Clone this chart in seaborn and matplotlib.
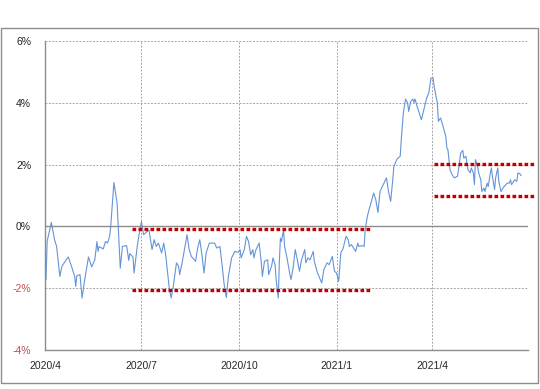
import pandas as pd
import matplotlib
matplotlib.use("Agg")
import matplotlib.pyplot as plt
from matplotlib.patches import Rectangle
import seaborn as sns

# daily series (percent)
dates = [
    "2020-04-02", "2020-04-03", "2020-04-07", "2020-04-10", "2020-04-12", "2020-04-15", "2020-04-17",
    "2020-04-21", "2020-04-23", "2020-04-26", "2020-04-29", "2020-04-30", "2020-05-01", "2020-05-04",
    "2020-05-06", "2020-05-08", "2020-05-12", "2020-05-15", "2020-05-18", "2020-05-20", "2020-05-21",
    "2020-05-22", "2020-05-26", "2020-05-28", "2020-05-30", "2020-06-01", "2020-06-02", "2020-06-05",
    "2020-06-08", "2020-06-11", "2020-06-13", "2020-06-17", "2020-06-19", "2020-06-20", "2020-06-23",
    "2020-06-24", "2020-06-27", "2020-06-29", "2020-07-01", "2020-07-03", "2020-07-08", "2020-07-11",
    "2020-07-13", "2020-07-15", "2020-07-17", "2020-07-20", "2020-07-22", "2020-07-24", "2020-07-27",
    "2020-07-29", "2020-07-31", "2020-08-03", "2020-08-05", "2020-08-06", "2020-08-08", "2020-08-11",
    "2020-08-13", "2020-08-15", "2020-08-17", "2020-08-21", "2020-08-23", "2020-08-25", "2020-08-27",
    "2020-08-29", "2020-08-31", "2020-09-03", "2020-09-08", "2020-09-10", "2020-09-13", "2020-09-15",
    "2020-09-17", "2020-09-19", "2020-09-21", "2020-09-24", "2020-09-27", "2020-09-30", "2020-10-02",
    "2020-10-03", "2020-10-06", "2020-10-08", "2020-10-10", "2020-10-12", "2020-10-14", "2020-10-15",
    "2020-10-17", "2020-10-20", "2020-10-22", "2020-10-23", "2020-10-25", "2020-10-28", "2020-10-29",
    "2020-11-01", "2020-11-02", "2020-11-04", "2020-11-05", "2020-11-07", "2020-11-08", "2020-11-09",
    "2020-11-10", "2020-11-12", "2020-11-13", "2020-11-15", "2020-11-18", "2020-11-19", "2020-11-21",
    "2020-11-23", "2020-11-25", "2020-11-27", "2020-11-29", "2020-12-02", "2020-12-03", "2020-12-05",
    "2020-12-07", "2020-12-10", "2020-12-11", "2020-12-14", "2020-12-18", "2020-12-20", "2020-12-23",
    "2020-12-25", "2020-12-28", "2020-12-30", "2021-01-01", "2021-01-03", "2021-01-05", "2021-01-07",
    "2021-01-10", "2021-01-12", "2021-01-13", "2021-01-15", "2021-01-17", "2021-01-19", "2021-01-21",
    "2021-01-22", "2021-01-25", "2021-01-27", "2021-01-28", "2021-01-30", "2021-02-01", "2021-02-02",
    "2021-02-05", "2021-02-07", "2021-02-09", "2021-02-11", "2021-02-14", "2021-02-17", "2021-02-19",
    "2021-02-21", "2021-02-23", "2021-02-24", "2021-02-27", "2021-03-02", "2021-03-03", "2021-03-05",
    "2021-03-07", "2021-03-09", "2021-03-10", "2021-03-12", "2021-03-14", "2021-03-15", "2021-03-16",
    "2021-03-18", "2021-03-21", "2021-03-22", "2021-03-25", "2021-03-27", "2021-03-29", "2021-03-31",
    "2021-04-02", "2021-04-03", "2021-04-06", "2021-04-07", "2021-04-09", "2021-04-11", "2021-04-14",
    "2021-04-15", "2021-04-16", "2021-04-18", "2021-04-20", "2021-04-22", "2021-04-25", "2021-04-26",
    "2021-04-28", "2021-04-30", "2021-05-01", "2021-05-03", "2021-05-04", "2021-05-05", "2021-05-07",
    "2021-05-08", "2021-05-10", "2021-05-11", "2021-05-12", "2021-05-14", "2021-05-15", "2021-05-17",
    "2021-05-18", "2021-05-20", "2021-05-21", "2021-05-23", "2021-05-24", "2021-05-26", "2021-05-27",
    "2021-05-28", "2021-05-30", "2021-05-31", "2021-06-02", "2021-06-03", "2021-06-05", "2021-06-06",
    "2021-06-08", "2021-06-11", "2021-06-13", "2021-06-14", "2021-06-15", "2021-06-17", "2021-06-18",
    "2021-06-20", "2021-06-21", "2021-06-23", "2021-06-24",
]
values = [
    -1.72, -0.49, 0.13, -0.43, -0.65, -1.62, -1.29,
    -1.08, -0.99, -1.29, -1.62, -1.94, -1.60, -1.56,
    -2.32, -1.83, -0.99, -1.31, -1.08, -0.49, -0.81,
    -0.65, -0.73, -0.49, -0.54, -0.32, 0.00, 1.42,
    0.76, -1.35, -0.65, -0.62, -1.10, -0.88, -0.99,
    -1.51, -0.65, -0.21, 0.16, -0.27, -0.11, -0.75,
    -0.43, -0.65, -0.54, -0.86, -0.54, -0.97, -1.94,
    -2.32, -1.94, -1.18, -1.29, -1.56, -1.24, -0.65,
    -0.27, -0.75, -0.97, -1.13, -0.70, -0.43, -0.92,
    -1.51, -0.86, -0.54, -0.54, -0.70, -0.65, -1.24,
    -1.89, -2.30, -1.62, -1.02, -0.81, -0.84, -0.75,
    -1.02, -0.75, -0.32, -0.49, -0.92, -0.75, -1.02,
    -0.75, -0.54, -1.18, -1.62, -1.13, -1.08, -1.56,
    -1.24, -1.02, -1.24, -1.72, -2.32, -1.18, -0.38,
    -0.49, -0.11, -0.65, -0.97, -1.56, -1.72, -1.35,
    -0.75, -1.08, -1.45, -1.08, -0.75, -1.18, -1.02,
    -1.08, -0.81, -1.13, -1.51, -1.83, -1.40, -1.18,
    -1.24, -0.97, -1.45, -1.51, -1.78, -0.86, -0.73,
    -0.32, -0.43, -0.65, -0.59, -0.70, -0.81, -0.54,
    -0.65, -0.62, -0.65, -0.11, 0.32, 0.59, 0.70,
    1.08, 0.86, 0.45, 1.13, 1.35, 1.57, 1.13,
    0.81, 1.51, 1.94, 2.18, 2.27, 2.81, 3.67,
    4.12, 4.00, 3.72, 4.05, 4.12, 4.01, 4.12,
    3.88, 3.56, 3.45, 3.88, 4.16, 4.32, 4.80,
    4.80, 4.53, 4.00, 3.40, 3.51, 3.29, 2.91,
    2.54, 2.48, 1.83, 1.67, 1.57, 1.62, 1.83,
    2.37, 2.46, 2.21, 2.27, 2.00, 1.83, 1.73,
    1.89, 1.73, 1.35, 2.16, 1.94, 1.73, 1.51,
    1.13, 1.24, 1.13, 1.40, 1.29, 1.73, 1.89,
    1.62, 1.19, 1.57, 1.89, 1.46, 1.13, 1.19,
    1.29, 1.40, 1.40, 1.51, 1.35, 1.46, 1.51,
    1.46, 1.73, 1.70, 1.64,
]

# red dotted range lines
range1_dates = ["2020-06-22", "2021-02-02"]
range1_levels = [-0.08, -2.05]
range2_dates = ["2021-04-03", "2021-07-08"]
range2_levels = [2.03, 0.97]

y_ticks = [-4, -2, 0, 2, 4, 6]
x_ticks = ["2020-04-01", "2020-07-01", "2020-10-01", "2021-01-01", "2021-04-01", "2021-07-01"]
x_labels = ["2020/4", "2020/7", "2020/10", "2021/1", "2021/4", ""]

sns.set_style("white")
plt.rcParams["font.family"] = ["Liberation Sans", "DejaVu Sans"]

df = pd.DataFrame({"date": pd.to_datetime(dates), "value": values})

fig = plt.figure(figsize=(5.4, 3.89), dpi=100)
fig.patches.append(Rectangle((0.002, 0.016), 0.995, 0.912, transform=fig.transFigure,
                             fill=False, edgecolor="#8c8c8c", linewidth=1.0))
ax = fig.add_axes([0.0833, 0.1003, 0.8954, 0.7943])

sns.lineplot(data=df, x="date", y="value", ax=ax, color="#6494d8", linewidth=0.8)

for lv in range1_levels:
    ax.plot(pd.to_datetime(range1_dates), [lv, lv], color="#c00000", linewidth=2.4,
            linestyle=(0, (1.1, 0.7)), solid_capstyle="butt", clip_on=False)
for lv in range2_levels:
    ax.plot(pd.to_datetime(range2_dates), [lv, lv], color="#c00000", linewidth=2.4,
            linestyle=(0, (1.1, 0.7)), solid_capstyle="butt", clip_on=False)

ax.set_xlim(pd.Timestamp("2020-04-01"), pd.Timestamp("2021-07-01"))
ax.set_ylim(-4, 6)
ax.set_yticks(y_ticks)
ax.set_yticklabels(["%d%%" % t for t in y_ticks])
for lab, t in zip(ax.get_yticklabels(), y_ticks):
    lab.set_color("#c0504d" if t < 0 else "#222222")
ax.set_xticks(pd.to_datetime(x_ticks))
ax.set_xticklabels(x_labels)
ax.tick_params(axis="both", labelsize=7.5, length=3, color="#8c8c8c", direction="out")
ax.tick_params(axis="y", pad=7)
ax.tick_params(axis="x", pad=5)

ax.grid(True, color="#a6a6a6", linestyle=(0, (2, 1.5)), linewidth=0.7)
ax.axhline(0, color="#8c8c8c", linewidth=1.0)
for side in ["top", "right"]:
    ax.spines[side].set_visible(False)
for side in ["left", "bottom"]:
    ax.spines[side].set_color("#8c8c8c")
    ax.spines[side].set_linewidth(1.0)
ax.set_xlabel("")
ax.set_ylabel("")

fig.savefig("out.png", dpi=100)
